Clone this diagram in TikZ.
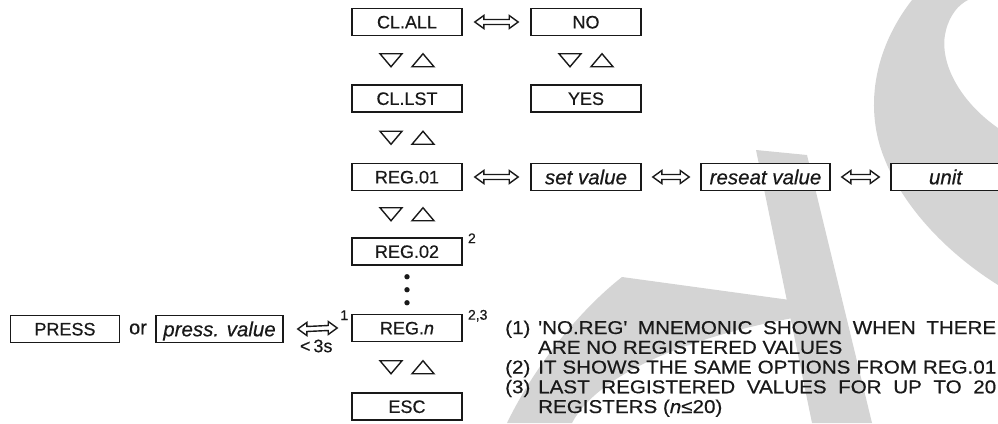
\documentclass[tikz,border=0pt]{standalone}
\usepackage{graphicx}
\usepackage{fontspec}
\setmainfont{Liberation Sans}[FakeBold=0.45]
\usetikzlibrary{calc}
\definecolor{wm}{RGB}{212,212,212}
\definecolor{ink}{RGB}{25,25,25}
\newcommand{\dblarr}[3][12]{\draw[dblarrow] let \p1=($(#2.east)+(#1,0)$), \p2=($(#3.west)-(#1,0)$) in
  (\x1,\y1) -- (\x1+9pt,\y1+6.5pt) -- (\x1+9pt,\y1+2.5pt) -- (\x2-9pt,\y2+2.5pt) -- (\x2-9pt,\y2+6.5pt) -- (\x2,\y2)
  -- (\x2-9pt,\y2-6.5pt) -- (\x2-9pt,\y2-2.5pt) -- (\x1+9pt,\y1-2.5pt) -- (\x1+9pt,\y1-6.5pt) -- cycle;}
\newcommand{\updn}[1]{%
  \draw[tri] ($(#1)+(-27,-6.5)$) -- ($(#1)+(-5,-6.5)$) -- ($(#1)+(-16,6.5)$) -- cycle;
  \draw[tri] ($(#1)+(5,6.5)$) -- ($(#1)+(27,6.5)$) -- ($(#1)+(16,-6.5)$) -- cycle;}
\newcommand{\sq}[1]{\scalebox{1}[0.9]{#1}}
\begin{document}
\begin{tikzpicture}[x=1pt,y=-1pt,
  box/.style={draw=ink, line width=1.6pt, fill=white, minimum width=110pt, minimum height=27pt,
    inner sep=0pt, text=ink, font=\fontsize{18}{21}\selectfont, text height=14.6pt, text depth=1.8pt},
  ibox/.style={box, font=\fontsize{20.5}{24}\selectfont\itshape, text height=16.6pt, text depth=2pt},
  dblarrow/.style={draw=ink, line width=1.4pt, fill=white, line join=miter},
  tri/.style={draw=ink, line width=1.4pt, line join=miter},
  lbl/.style={text=ink, inner sep=0pt, font=\fontsize{20}{24}\selectfont},
  sup/.style={text=ink, inner sep=0pt, font=\fontsize{14}{16}\selectfont},
  note/.style={text=ink, inner sep=0pt, anchor=base west, font=\fontsize{20.6}{24}\selectfont}]
\useasboundingbox (0,0) rectangle (998,423);
% watermark
\fill[wm] (912,0) .. controls (873,50) and (864,110) .. (885,160) .. controls (905,210) and (950,255) .. (998,285)
  -- (998,128) .. controls (958,100) and (938,60) .. (946,30) .. controls (950,15) and (958,5) .. (968,0) -- cycle;
\fill[wm] (756,150) -- (807,155) -- (872,423) -- (812,423) -- cycle;
\fill[wm] (622,277) -- (790,300) -- (793,318) .. controls (700,335) and (600,370) .. (572,423) -- (507,423)
  .. controls (535,365) and (580,310) .. (622,277) -- cycle;
% boxes
\node[box] (clall) at (407,22) {CL.ALL};
\node[box] (no) at (586,22) {NO};
\node[box] (cllst) at (407,98.5) {CL.LST};
\node[box] (yes) at (586,98.5) {YES};
\node[box] (reg01) at (407,177) {REG.01};
\node[ibox] (setv) at (586,177) {set value};
\node[ibox, minimum width=129pt] (reseat) at (765.5,177) {reseat value};
\node[ibox, minimum width=109pt] (unit) at (945.5,177) {unit};
\node[box] (reg02) at (407,251.5) {REG.02};
\node[box] (regn) at (407,328) {REG.\textit{n}};
\node[box] (esc) at (407,406.5) {ESC};
\node[box, minimum width=109pt] (press) at (65,329) {PRESS};
\node[lbl] (or) at (138,329) {or};
\node[ibox, minimum width=127pt] (pval) at (219.5,329) {press. value};
% up/down triangles
\coordinate (t1) at ($(clall.south)!0.5!(cllst.north)$);
\coordinate (t1b) at ($(no.south)!0.5!(yes.north)$);
\coordinate (t2) at ($(cllst.south)!0.5!(reg01.north)$);
\coordinate (t3) at ($(reg01.south)!0.5!(reg02.north)$);
\coordinate (t4) at ($(regn.south)!0.5!(esc.north)$);
\coordinate (dm) at ($(reg02.south)!0.5!(regn.north)$);
\updn{t1}
\updn{t1b}
\updn{t2}
\updn{t3}
\updn{t4}
\fill[ink] ($(dm)+(0,-13)$) circle (2.7);
\fill[ink] (dm) circle (2.7);
\fill[ink] ($(dm)+(0,13)$) circle (2.7);
% double arrows
\dblarr{clall}{no}
\dblarr{reg01}{setv}
\dblarr[11]{setv}{reseat}
\dblarr[11]{reseat}{unit}
\dblarr[14]{pval}{regn}
% superscripts
\node[sup, anchor=base west] (s2) at ($(reg02.north east)+(5,6)$) {2};
\node[sup, anchor=base west] (s23) at ($(regn.north east)+(5,6)$) {2,3};
\node[sup, anchor=base west] (s1) at ($(regn.west)+(-11,-8)$) {1};
\node[sup, font=\fontsize{18}{20}\selectfont] (lt) at ($(regn.west)+(-35,18)$) {<\,3s};
% notes
\node[note] (n1) at (505,334) {\sq{(1)}};
\node[note] (n1t) at (538,334) {\sq{\makebox[458pt][s]{\textquotesingle NO.REG\textquotesingle\ MNEMONIC SHOWN WHEN THERE}}};
\node[note] (n1b) at (538,353.75) {\sq{ARE NO REGISTERED VALUES}};
\node[note] (n2) at (505,373.5) {\sq{(2)}};
\node[note] (n2t) at (538,373.5) {\sq{\makebox[458pt][s]{IT SHOWS THE SAME OPTIONS FROM REG.01}}};
\node[note] (n3) at (505,393.25) {\sq{(3)}};
\node[note] (n3t) at (538,393.25) {\sq{\makebox[458pt][s]{LAST REGISTERED VALUES FOR UP TO 20}}};
\node[note] (n3b) at (538,413) {\sq{REGISTERS (\textit{n}≤20)}};
\end{tikzpicture}
\end{document}
